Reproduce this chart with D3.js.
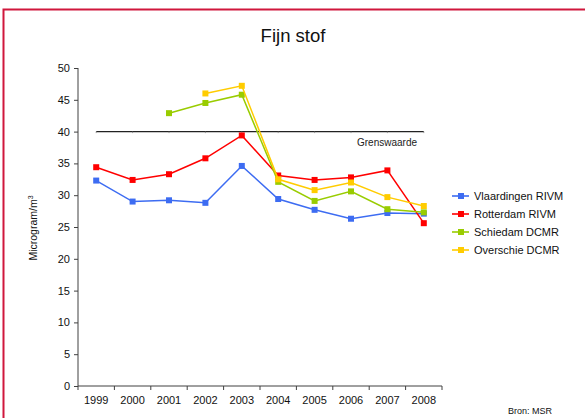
<!DOCTYPE html>
<html><head><meta charset="utf-8">
<script src="https://cdn.jsdelivr.net/npm/d3@7"></script>
<style>html,body{margin:0;padding:0;background:#fff;}svg{display:block;font-family:"Liberation Sans",Arial,sans-serif;}</style>
</head><body>
<svg id="c" width="585" height="418"></svg>
<script>
const years = ["1999","2000","2001","2002","2003","2004","2005","2006","2007","2008"];
const vlaardingen = [32.3, 29.0, 29.2, 28.8, 34.6, 29.4, 27.7, 26.3, 27.2, 27.1];
const rotterdam = [34.4, 32.4, 33.3, 35.8, 39.4, 33.1, 32.4, 32.8, 33.9, 25.6];
const schiedam = [null, null, 42.9, 44.5, 45.8, 32.1, 29.1, 30.6, 27.8, 27.3];
const overschie = [null, null, null, 46.0, 47.2, 32.5, 30.8, 32.0, 29.7, 28.3];
const grenswaarde = [40,40,40,40,40,40,40,40,40,40];
const seriesNames = ["Vlaardingen RIVM","Rotterdam RIVM","Schiedam DCMR","Overschie DCMR"];
const seriesColors = ["#3d6cf2","#ff0000","#99cc00","#ffcc00"];
const yTicks = [0,5,10,15,20,25,30,35,40,45,50];

const series = [vlaardingen, rotterdam, schiedam, overschie];
const svg = d3.select("#c");

// frame
svg.append("path").attr("d","M3.5,418 V9.5 H585").attr("fill","none").attr("stroke","#d0173c").attr("stroke-width",2);

const x = d3.scaleBand().domain(years).range([78, 442]);
const y = d3.scaleLinear().domain([0,50]).range([386, 68]);
const axisColor = "#404040";

// title
svg.append("text").attr("x",293).attr("y",42).attr("text-anchor","middle").attr("font-size",18.5).attr("fill","#111").text("Fijn stof");

// y axis
const ya = svg.append("g").attr("transform","translate(78,0)").call(d3.axisLeft(y).tickValues(yTicks).tickSize(4).tickPadding(4));
ya.select(".domain").attr("stroke",axisColor).attr("d","M0,68V386");
ya.selectAll(".tick line").attr("stroke",axisColor);
ya.selectAll("text").attr("font-size",11).attr("fill","#111").style("font-family","Liberation Sans, Arial, sans-serif");

// x axis
const xa = svg.append("g").attr("transform","translate(0,386)").call(d3.axisBottom(x).tickSize(0).tickPadding(10));
xa.select(".domain").attr("stroke",axisColor).attr("d","M78,0H442");
xa.selectAll("text").attr("font-size",11).attr("fill","#111").style("font-family","Liberation Sans, Arial, sans-serif");
const bounds = years.map(d=>x(d)).concat([x(years[years.length-1])+x.bandwidth()]);
svg.append("g").selectAll("line").data(bounds).join("line")
  .attr("x1",d=>d).attr("x2",d=>d).attr("y1",386).attr("y2",390).attr("stroke",axisColor);

const cx = d => x(d) + x.bandwidth()/2;

// grenswaarde
svg.append("path").datum(grenswaarde.map((v,i)=>[years[i],v]))
  .attr("d", d3.line().x(d=>cx(d[0])).y(d=>y(d[1])))
  .attr("fill","none").attr("stroke","#222").attr("stroke-width",1.2);
svg.append("g").selectAll("line").data(grenswaarde.map((v,i)=>[years[i],v])).join("line")
  .attr("x1",d=>cx(d[0])).attr("x2",d=>cx(d[0])).attr("y1",d=>y(d[1])).attr("y2",d=>y(d[1])+1.5).attr("stroke","#888").attr("stroke-width",0.8);
svg.append("text").attr("x",417).attr("y",y(40)+14).attr("text-anchor","end").attr("font-size",10).attr("fill","#222").text("Grenswaarde");

// series
const line = d3.line().defined(d=>d[1]!=null).x(d=>cx(d[0])).y(d=>y(d[1]));
series.forEach((s,i)=>{
  const pts = s.map((v,j)=>[years[j],v]);
  svg.append("path").datum(pts).attr("d",line).attr("fill","none").attr("stroke",seriesColors[i]).attr("stroke-width",1.5);
  svg.append("g").selectAll("rect").data(pts.filter(d=>d[1]!=null)).join("rect")
    .attr("x",d=>cx(d[0])-3).attr("y",d=>y(d[1])-3).attr("width",6).attr("height",6).attr("fill",seriesColors[i]);
});

// y label
svg.append("text").attr("transform","translate(37,228) rotate(-90)").attr("text-anchor","middle").attr("font-size",10.5).attr("fill","#111")
  .text("Microgram/m").append("tspan").attr("font-size",7).attr("dy",-4).text("3");

// legend
const lg = svg.append("g");
seriesNames.forEach((n,i)=>{
  const ly = 196 + i*18;
  lg.append("line").attr("x1",452).attr("x2",469).attr("y1",ly).attr("y2",ly).attr("stroke",seriesColors[i]).attr("stroke-width",1.6);
  lg.append("rect").attr("x",458).attr("y",ly-3).attr("width",6).attr("height",6).attr("fill",seriesColors[i]);
  lg.append("text").attr("x",474).attr("y",ly+4).attr("font-size",11).attr("fill","#111").text(n);
});

// source
svg.append("text").attr("x",552).attr("y",414).attr("text-anchor","end").attr("font-size",9).attr("fill","#111").text("Bron: MSR");
</script>
</body></html>
